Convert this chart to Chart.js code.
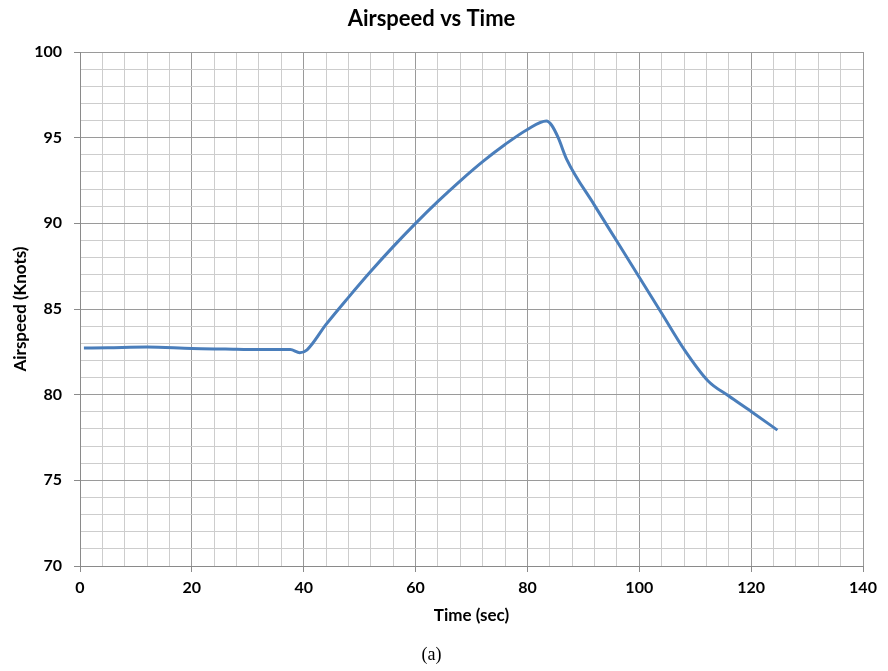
<!DOCTYPE html>
<html>
<head>
<meta charset="utf-8">
<script src="https://cdn.jsdelivr.net/npm/chart.js@4"></script>
<style>
  body { margin: 0; background: #fff; }
</style>
</head>
<body>
<canvas id="chartCanvas" width="888" height="671"></canvas>
<script>
// time (sec) and airspeed (knots)
var times = [0.7, 5, 12, 20, 26, 32, 37.6, 39.3, 40.6, 44, 48, 52, 56, 60, 64, 68, 72, 76, 80, 83.4, 84.3, 85.5, 87, 92, 96, 100, 104, 108, 112.3, 116, 120, 124.7];
var airspeed = [82.72, 82.74, 82.78, 82.69, 82.66, 82.63, 82.63, 82.45, 82.62, 84.1, 85.68, 87.2, 88.64, 90.0, 91.28, 92.48, 93.6, 94.6, 95.48, 95.97, 95.74, 95.0, 93.75, 91.05, 88.95, 86.85, 84.75, 82.65, 80.8, 79.92, 79.02, 77.93];
var xTicks = [0, 20, 40, 60, 80, 100, 120, 140];
var yTicks = [70, 75, 80, 85, 90, 95, 100];

var points = times.map(function(t, i) { return { x: t, y: airspeed[i] }; });

Chart.defaults.font.family = 'Lato, "Open Sans", sans-serif';
Chart.defaults.color = '#000';

function isMajor(list, v) { return list.indexOf(v) !== -1; }

var ctx = document.getElementById('chartCanvas').getContext('2d');
var chart = new Chart(ctx, {
  type: 'line',
  data: {
    datasets: [{
      data: points,
      borderColor: '#4a7ebb',
      borderWidth: 3,
      pointRadius: 0,
      fill: false,
      cubicInterpolationMode: 'monotone'
    }]
  },
  options: {
    responsive: false,
    animation: false,
    layout: { padding: { left: 0, right: 25, top: 0, bottom: 0 } },
    plugins: {
      legend: { display: false },
      tooltip: { enabled: false },
      title: {
        display: true,
        text: 'Airspeed vs Time',
        font: { size: 22, weight: 'bold' },
        padding: { top: 6, bottom: 19.6 }
      },
      subtitle: {
        display: true,
        position: 'bottom',
        text: '(a)',
        font: { family: '"Liberation Serif", "DejaVu Serif", serif', size: 18, weight: 'normal' },
        padding: { top: 18.4, bottom: 5 }
      }
    },
    scales: {
      x: {
        type: 'linear',
        min: 0,
        max: 140,
        afterFit: function(scale) { scale.height = 60; },
        afterBuildTicks: function(scale) {
          var t = [];
          for (var v = 0; v <= 140; v += 4) t.push({ value: v });
          scale.ticks = t;
        },
        ticks: {
          autoSkip: false,
          maxRotation: 0,
          padding: 6,
          font: { size: 16, weight: 'bold' },
          callback: function(v) { return isMajor(xTicks, v) ? v : ''; }
        },
        grid: {
          tickLength: 6,
          color: function(c) { return isMajor(xTicks, c.tick.value) ? '#9a9a9a' : '#cdcdcd'; },
          tickColor: function(c) { return isMajor(xTicks, c.tick.value) ? '#8a8a8a' : 'rgba(0,0,0,0)'; }
        },
        border: { color: '#8a8a8a' },
        title: {
          display: true,
          text: 'Time (sec)',
          font: { size: 17, weight: 'bold' },
          padding: { top: 0, bottom: 0 }
        }
      },
      y: {
        type: 'linear',
        min: 70,
        max: 100,
        afterFit: function(scale) { scale.width = 80; },
        afterBuildTicks: function(scale) {
          var t = [];
          for (var v = 70; v <= 100; v += 1) t.push({ value: v });
          scale.ticks = t;
        },
        ticks: {
          autoSkip: false,
          padding: 12,
          font: { size: 16, weight: 'bold' },
          callback: function(v) { return isMajor(yTicks, v) ? v : ''; }
        },
        grid: {
          tickLength: 6,
          color: function(c) { return isMajor(yTicks, c.tick.value) ? '#9a9a9a' : '#cdcdcd'; },
          tickColor: function(c) { return isMajor(yTicks, c.tick.value) ? '#8a8a8a' : 'rgba(0,0,0,0)'; }
        },
        border: { color: '#8a8a8a' },
        title: {
          display: true,
          text: 'Airspeed (Knots)',
          font: { size: 17, weight: 'bold' },
          padding: { top: 10, bottom: 0 }
        }
      }
    }
  }
});
</script>
</body>
</html>
